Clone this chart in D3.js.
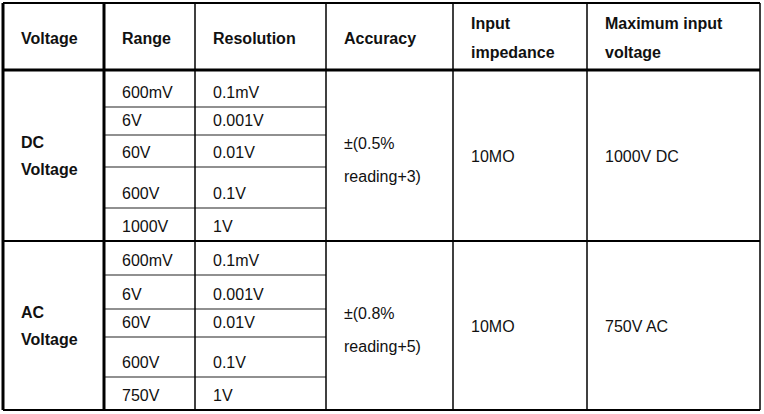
<!DOCTYPE html>
<html><head><meta charset="utf-8">
<script src="https://cdn.jsdelivr.net/npm/d3@7"></script>
<style>body{margin:0;background:#fff}text{font-family:"Liberation Sans",Arial,sans-serif;font-size:16px;fill:#111}</style>
</head><body><svg id="c" width="764" height="414"></svg>
<script>
// table content
const headers = [["Voltage"], ["Range"], ["Resolution"], ["Accuracy"], ["Input", "impedance"], ["Maximum input", "voltage"]];
const groups = [["DC", "Voltage"], ["AC", "Voltage"]];
const ranges = [["600mV", "6V", "60V", "600V", "1000V"], ["600mV", "6V", "60V", "600V", "750V"]];
const resolutions = [["0.1mV", "0.001V", "0.01V", "0.1V", "1V"], ["0.1mV", "0.001V", "0.01V", "0.1V", "1V"]];
const accuracy = [["±(0.5%", "reading+3)"], ["±(0.8%", "reading+5)"]];
const impedance = ["10MO", "10MO"];
const maxInput = ["1000V DC", "750V AC"];

// layout
const colEdges = [3, 104, 195, 326, 453, 587, 760];
const headTop = 3, headBottom = 70;
const rowEdges = [[70, 107, 135, 167, 208, 241], [241, 275, 309, 337, 377, 410]];
const pad = 18;

const svg = d3.select("#c");
const x = i => colEdges[i];

function lines(g, parts, x0, yMid, bold, lh) {
  const y0 = yMid - (parts.length - 1) * lh / 2 + 6;
  parts.forEach((t, i) => g.append("text").attr("x", x0).attr("y", y0 + i * lh)
    .attr("font-weight", bold ? "bold" : null).text(t));
}

// header
headers.forEach((h, i) => lines(svg, h, x(i) + pad, (headTop + headBottom) / 2 + 1, true, 29));

groups.forEach((gname, gi) => {
  const re = rowEdges[gi], top = re[0], bot = re[re.length - 1], mid = (top + bot) / 2;
  lines(svg, gname, x(0) + pad, mid, true, 27);
  ranges[gi].forEach((r, ri) => {
    const yb = re[ri + 1] - 9;
    svg.append("text").attr("x", x(1) + pad).attr("y", yb).text(r);
    svg.append("text").attr("x", x(2) + pad).attr("y", yb).text(resolutions[gi][ri]);
    if (ri > 0) svg.append("line").attr("x1", x(1)).attr("x2", x(3)).attr("y1", re[ri]).attr("y2", re[ri])
      .attr("stroke", "#222").attr("stroke-width", 1.2);
  });
  lines(svg, accuracy[gi], x(3) + pad, mid + 4, false, 33);
  lines(svg, [impedance[gi]], x(4) + pad, mid, false, 0);
  lines(svg, [maxInput[gi]], x(5) + pad, mid, false, 0);
  svg.append("line").attr("x1", x(0)).attr("x2", x(6)).attr("y1", bot).attr("y2", bot)
    .attr("stroke", "#000").attr("stroke-width", 2);
});

// vertical lines
colEdges.forEach((cx, i) => svg.append("line").attr("x1", cx).attr("x2", cx)
  .attr("y1", headTop).attr("y2", rowEdges[1][5])
  .attr("stroke", "#000").attr("stroke-width", (i === 0 || i === 1) ? 3 : 1.5));
svg.append("line").attr("x1", x(0)).attr("x2", x(6)).attr("y1", headTop).attr("y2", headTop)
  .attr("stroke", "#000").attr("stroke-width", 2);
svg.append("line").attr("x1", x(0)).attr("x2", x(6)).attr("y1", headBottom).attr("y2", headBottom)
  .attr("stroke", "#000").attr("stroke-width", 3);
</script></body></html>
